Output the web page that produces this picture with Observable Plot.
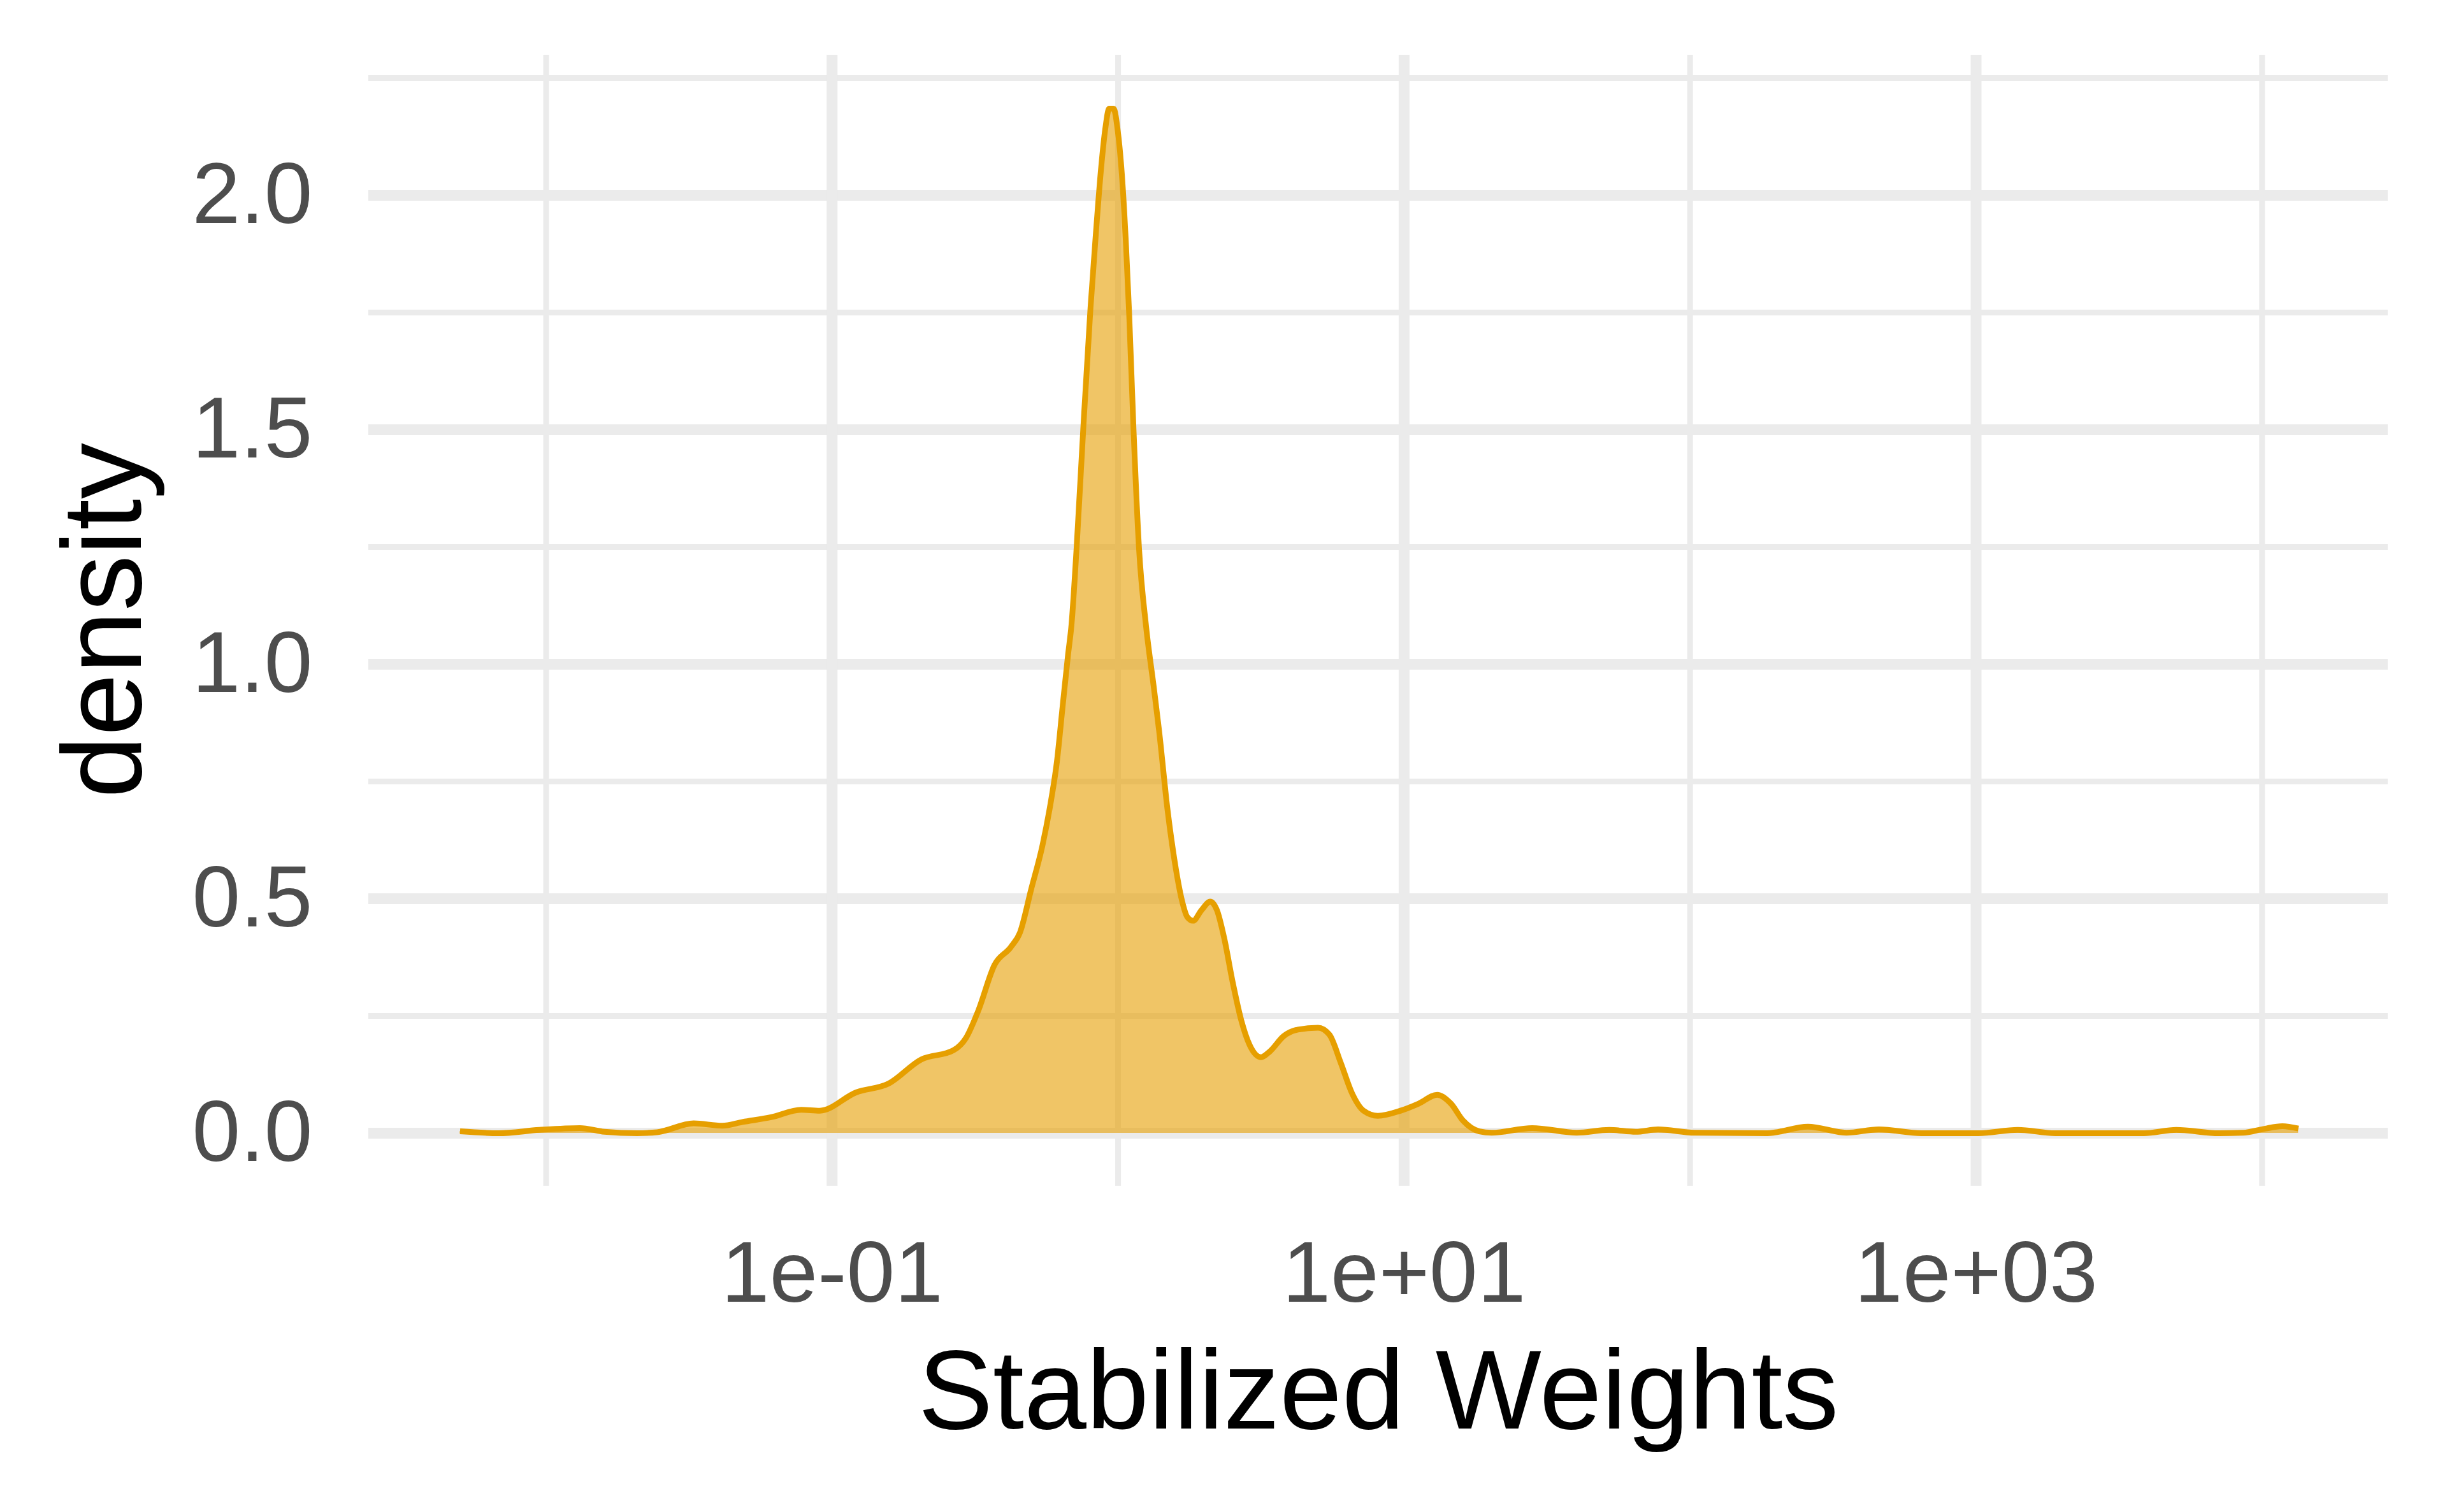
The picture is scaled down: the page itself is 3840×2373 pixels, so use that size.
<!DOCTYPE html>
<html>
<head>
<meta charset="utf-8">
<script src="https://cdn.jsdelivr.net/npm/d3@7"></script>
<script src="https://cdn.jsdelivr.net/npm/@observablehq/plot@0.6"></script>
<style>
html, body { margin: 0; padding: 0; background: #ffffff; }
svg { display: block; }
</style>
</head>
<body>
<div id="chart"></div>
<script>
// log10 of the stabilized weight
const logWeight = [
  -2.301, -2.166, -2.024, -1.882, -1.796, -1.682, -1.612, -1.484, -1.384, -1.313,
  -1.214, -1.108, -1.043, -0.916, -0.802, -0.689, -0.575, -0.532, -0.489, -0.432,
  -0.375, -0.343, -0.304, -0.264, -0.234, -0.214, -0.194, -0.175, -0.163, -0.145,
  -0.122, -0.0965, -0.078, -0.060, -0.045, -0.031, -0.016, -0.001, 0.013, 0.028,
  0.039, 0.054, 0.073, 0.098, 0.125, 0.143, 0.173, 0.198, 0.223, 0.242,
  0.262, 0.292, 0.322, 0.346, 0.371, 0.401, 0.431, 0.460, 0.500, 0.530,
  0.579, 0.629, 0.699, 0.739, 0.778, 0.818, 0.858, 0.908, 0.988, 1.051,
  1.116, 1.164, 1.206, 1.263, 1.306, 1.448, 1.604, 1.717, 1.810, 1.888,
  2.016, 2.270, 2.412, 2.547, 2.660, 2.809, 3.008, 3.146, 3.277, 3.587,
  3.700, 3.850, 3.934, 4.005, 4.071, 4.127
];
const density = [
  0.004, 0.000, 0.007, 0.011, 0.003, 0.000, 0.002, 0.021, 0.016, 0.024,
  0.034, 0.050, 0.048, 0.087, 0.106, 0.157, 0.177, 0.203, 0.261, 0.359,
  0.397, 0.428, 0.520, 0.615, 0.711, 0.792, 0.910, 1.020, 1.084, 1.249,
  1.500, 1.760, 1.916, 2.054, 2.141, 2.185, 2.185, 2.137, 2.046, 1.890,
  1.743, 1.500, 1.249, 1.080, 0.950, 0.860, 0.689, 0.579, 0.497, 0.461,
  0.453, 0.476, 0.494, 0.475, 0.416, 0.321, 0.240, 0.188, 0.162, 0.174,
  0.207, 0.221, 0.225, 0.210, 0.151, 0.085, 0.048, 0.037, 0.048, 0.063,
  0.082, 0.063, 0.027, 0.004, 0.001, 0.011, 0.001, 0.007, 0.003, 0.008,
  0.001, 0.000, 0.014, 0.001, 0.008, 0.000, 0.000, 0.007, 0.000, 0.000,
  0.007, 0.000, 0.001, 0.009, 0.015, 0.010
];

const xMajorTicks = [0.1, 10, 1000];
const xTickLabels = ["1e-01", "1e+01", "1e+03"];
const xMinorTicks = [0.01, 1, 100, 10000];
const yMajorTicks = [0, 0.5, 1, 1.5, 2];
const yTickLabels = ["0.0", "0.5", "1.0", "1.5", "2.0"];
const yMinorTicks = [0.25, 0.75, 1.25, 1.75, 2.25];

const table = logWeight.map((l, i) => ({ weight: Math.pow(10, l), density: density[i] }));

const grid = "#EBEBEB";
const orange = "#E69F00";
const font = "'Liberation Sans', Arial, Helvetica, sans-serif";

const chart = Plot.plot({
  width: 3840,
  height: 2373,
  marginLeft: 578,
  marginRight: 93,
  marginTop: 86,
  marginBottom: 512,
  style: { fontFamily: font, background: "#ffffff", overflow: "visible" },
  x: { type: "log", domain: [Math.pow(10, -2.6205), Math.pow(10, 4.4405)] },
  y: { domain: [-0.1128, 2.299] },
  marks: [
    Plot.ruleY(yMinorTicks, { y: d => d, stroke: grid, strokeWidth: 9 }),
    Plot.ruleX(xMinorTicks, { x: d => d, stroke: grid, strokeWidth: 9 }),
    Plot.ruleY(yMajorTicks, { y: d => d, stroke: grid, strokeWidth: 17 }),
    Plot.ruleX(xMajorTicks, { x: d => d, stroke: grid, strokeWidth: 17 }),
    Plot.areaY(table, { x: "weight", y: "density", fill: orange, fillOpacity: 0.6, curve: "monotone-x" }),
    Plot.lineY(table, { x: "weight", y: "density", stroke: orange, strokeWidth: 9, strokeLinecap: "butt", strokeLinejoin: "round", curve: "monotone-x" }),
    Plot.axisX(xMajorTicks, {
      tickSize: 0, tickPadding: 85, fontSize: 136, fill: "#4D4D4D", label: null,
      tickFormat: d => xTickLabels[xMajorTicks.indexOf(d)]
    }),
    Plot.axisY(yMajorTicks, {
      tickSize: 0, tickPadding: 88, fontSize: 136, fill: "#4D4D4D", label: null,
      tickFormat: d => yTickLabels[yMajorTicks.indexOf(d)]
    }),
    Plot.text(["Stabilized Weights"], {
      text: d => d, frameAnchor: "bottom", dy: 380, lineAnchor: "bottom",
      textAnchor: "middle", fontSize: 176, fill: "#000000"
    }),
    Plot.text(["density"], {
      text: d => d, frameAnchor: "left", dx: -358, rotate: -90, lineAnchor: "bottom",
      textAnchor: "middle", fontSize: 176, fill: "#000000"
    })
  ]
});

document.getElementById("chart").appendChild(chart);
</script>
</body>
</html>
